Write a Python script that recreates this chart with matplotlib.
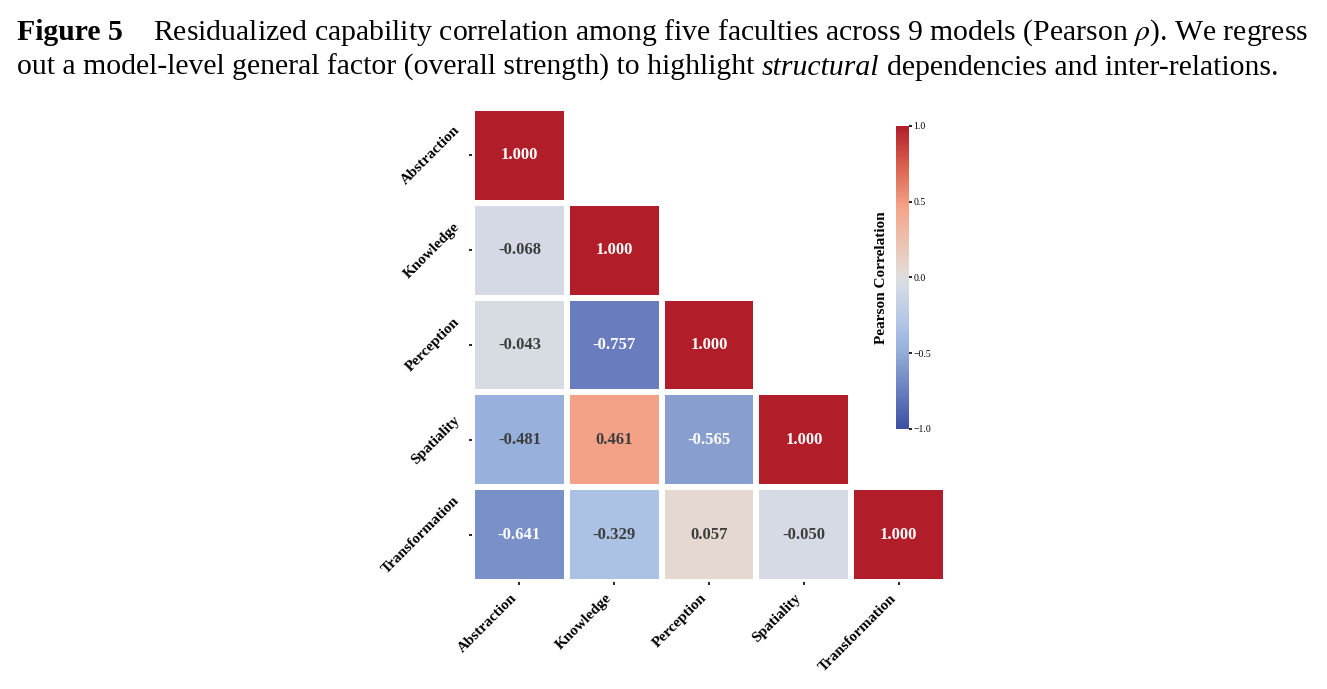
import numpy as np
import matplotlib
matplotlib.use("Agg")
import matplotlib.pyplot as plt
from matplotlib.colors import LinearSegmentedColormap
import seaborn as sns

labels = ['Abstraction', 'Knowledge', 'Perception', 'Spatiality', 'Transformation']
row_knowledge = [-0.068]
row_perception = [-0.043, -0.757]
row_spatiality = [-0.481, 0.461, -0.565]
row_transformation = [-0.641, -0.329, 0.057, -0.050]
cbar_ticks = [-1.0, -0.5, 0.0, 0.5, 1.0]

plt.rcParams['font.family'] = ['Liberation Serif', 'DejaVu Serif']
plt.rcParams['mathtext.fontset'] = 'stix'

# muted coolwarm, as it looks in the printed figure
cmap_stops = [
    (0.00, '#3d4fa3'),
    (0.12, '#687cbe'),
    (0.22, '#88a0d0'),
    (0.26, '#97b0dc'),
    (0.34, '#aec4e6'),
    (0.47, '#d5dae5'),
    (0.50, '#dddcdc'),
    (0.53, '#e5d8d0'),
    (0.73, '#f5a488'),
    (0.87, '#d9604e'),
    (1.00, '#b11e2a'),
]
muted_coolwarm = LinearSegmentedColormap.from_list('muted_coolwarm', cmap_stops)


def build_matrix():
    n = len(labels)
    m = np.eye(n)
    rows = [row_knowledge, row_perception, row_spatiality, row_transformation]
    for i, r in enumerate(rows, start=1):
        for j, v in enumerate(r):
            m[i, j] = v
            m[j, i] = v
    return m


def draw_segments(fig, renderer, x0, y, segments, size):
    # place text pieces one after another on a line (pixel x, fig-fraction y)
    W = fig.bbox.width
    space = 0.25 * size * fig.dpi / 72
    x = x0
    for txt, kw in segments:
        t = fig.text(x / W, y, txt, fontsize=size, va='baseline', ha='left', **kw)
        x += t.get_window_extent(renderer).width + space
    return x


corr = build_matrix()
mask = np.triu(np.ones_like(corr, dtype=bool), k=1)

fig = plt.figure(figsize=(13.27, 6.89), dpi=100)
ax = fig.add_axes([0.3557, 0.1553, 0.3572, 0.688])
cax = fig.add_axes([0.6752, 0.3774, 0.0098, 0.4398])

sns.heatmap(corr, mask=mask, cmap=muted_coolwarm, vmin=-1, vmax=1, center=0,
            annot=True, fmt='.3f', annot_kws={'size': 12, 'weight': 'bold'},
            linewidths=3, linecolor='white', ax=ax, cbar_ax=cax,
            xticklabels=labels, yticklabels=labels,
            cbar_kws={'ticks': cbar_ticks})

# soften the dark annotation colour
for t in ax.texts:
    if t.get_color() != 'w':
        t.set_color('#3d3d3d')

ax.set_xticklabels(labels, rotation=45, ha='right', fontsize=11, fontweight='bold')
ax.set_yticklabels(labels, rotation=45, va='center', fontsize=11, fontweight='bold')
ax.tick_params(axis='both', length=2, width=1.2, pad=5)

cbar = ax.collections[0].colorbar
cbar.outline.set_visible(False)
cbar.ax.tick_params(labelsize=7, length=2, width=1.2, pad=1)
cbar.ax.yaxis.set_label_position('left')
cbar.set_label('Pearson Correlation', fontsize=11, fontweight='bold', labelpad=6)

renderer = fig.canvas.get_renderer()
size = 21.4
y1 = 1 - 40 / 689
y2 = 1 - 75 / 689
draw_segments(fig, renderer, 17, y1, [('Figure 5', {'fontweight': 'bold'})], size)
draw_segments(fig, renderer, 153, y1, [(
    r'Residualized capability correlation among five faculties across 9 models (Pearson $\rho$). We regress', {})], size)
draw_segments(fig, renderer, 17, y2, [
    ('out a model-level general factor (overall strength) to highlight', {}),
    ('structural', {'fontstyle': 'italic'}),
    ('dependencies and inter-relations.', {}),
], size)

fig.savefig('out.png', dpi=100)
